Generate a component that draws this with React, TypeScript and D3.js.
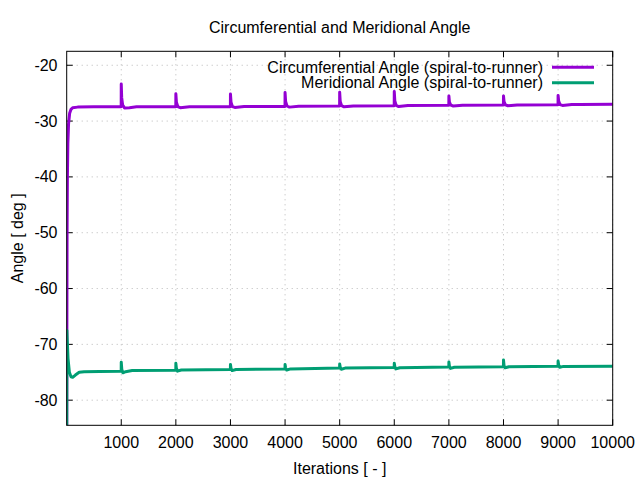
import React from 'react';
import * as d3 from 'd3';

// iteration / angle pairs
const circumferential: [number, number][] = [
  [1, -92], [4, -70], [8, -50], [14, -40], [22, -34], [35, -30.5], [55, -28.6],
  [80, -27.9], [110, -27.6], [200, -27.5], [500, -27.45], [999, -27.45],
  [1000, -23.35], [1008, -25.8], [1025, -27.1], [1060, -27.65], [1150, -27.6], [1280, -27.45], [1999, -27.45],
  [2000, -25.1], [2010, -26.6], [2035, -27.4], [2080, -27.6], [2250, -27.45], [2999, -27.45],
  [3000, -25.15], [3010, -26.6], [3035, -27.4], [3080, -27.55], [3250, -27.4], [3999, -27.38],
  [4000, -24.9], [4010, -26.5], [4035, -27.3], [4080, -27.5], [4250, -27.35], [4999, -27.32],
  [5000, -24.85], [5010, -26.5], [5035, -27.25], [5080, -27.45], [5250, -27.3], [5999, -27.25],
  [6000, -24.7], [6010, -26.4], [6035, -27.2], [6080, -27.4], [6250, -27.22], [6999, -27.18],
  [7000, -25.5], [7010, -26.6], [7035, -27.15], [7080, -27.3], [7250, -27.15], [7999, -27.12],
  [8000, -25.5], [8010, -26.5], [8035, -27.1], [8080, -27.25], [8250, -27.1], [8999, -27.06],
  [9000, -25.4], [9010, -26.4], [9035, -27.05], [9080, -27.2], [9250, -27.05], [9400, -27.02],
  [10000, -27.0],
];

const meridional: [number, number][] = [
  [1, -92], [4, -67.5], [10, -69], [25, -72.5], [50, -75], [80, -75.8], [110, -75.9],
  [160, -75.5], [230, -75.0], [320, -74.9], [600, -74.85], [999, -74.8],
  [1000, -73.2], [1010, -74.5], [1030, -75.1], [1080, -74.9], [1200, -74.7], [1999, -74.65],
  [2000, -73.4], [2010, -74.3], [2030, -74.8], [2100, -74.6], [2999, -74.5],
  [3000, -73.6], [3010, -74.3], [3030, -74.7], [3100, -74.5], [3999, -74.4],
  [4000, -73.6], [4010, -74.2], [4030, -74.6], [4100, -74.4], [4999, -74.25],
  [5000, -73.5], [5010, -74.1], [5030, -74.45], [5100, -74.25], [5999, -74.15],
  [6000, -73.4], [6010, -74.0], [6030, -74.4], [6100, -74.2], [6999, -74.05],
  [7000, -73.15], [7010, -73.9], [7030, -74.3], [7100, -74.1], [7999, -74.0],
  [8000, -72.8], [8010, -73.8], [8030, -74.2], [8100, -74.0], [8999, -73.9],
  [9000, -73.0], [9010, -73.7], [9030, -74.1], [9100, -73.95], [10000, -73.9],
];

const seriesNames = [
  'Circumferential Angle (spiral-to-runner)',
  'Meridional Angle (spiral-to-runner)',
];
const seriesColors = ['#9400d3', '#009e73'];

const iterTicks = [1000, 2000, 3000, 4000, 5000, 6000, 7000, 8000, 9000, 10000];
const angleTicks = [-80, -70, -60, -50, -40, -30, -20];

const width = 640;
const height = 480;
const margin = { top: 51.3, right: 27.3, bottom: 54.7, left: 66.7 };
const font = "'Liberation Sans', Arial, sans-serif";

const App: React.FC = () => {
  const x = d3
    .scaleLinear()
    .domain([1, 10000])
    .range([margin.left, width - margin.right]);
  const y = d3
    .scaleLinear()
    .domain([-84.5, -17.5])
    .range([height - margin.bottom, margin.top]);

  const line = d3
    .line<[number, number]>()
    .x((d) => x(d[0]))
    .y((d) => y(d[1]));

  const x0 = margin.left;
  const x1 = width - margin.right;
  const y0 = height - margin.bottom;
  const y1 = margin.top;
  const tickLen = 6;

  return (
    <svg
      width={width}
      height={height}
      style={{ position: 'absolute', left: 0, top: 0, background: '#fff' }}
      fontFamily={font}
    >
      <defs>
        <clipPath id='plot'>
          <rect x={x0} y={y1} width={x1 - x0} height={y0 - y1} />
        </clipPath>
      </defs>

      {/* grid */}
      <g stroke='#b8b8b8' strokeWidth={1} strokeDasharray='1,4'>
        {iterTicks.map((t) => (
          <line key={'gx' + t} x1={x(t)} x2={x(t)} y1={y0} y2={y1} />
        ))}
        {angleTicks.map((t) => (
          <line key={'gy' + t} x1={x0} x2={x1} y1={y(t)} y2={y(t)} />
        ))}
      </g>

      {/* ticks on all four sides */}
      <g stroke='#000' strokeWidth={1}>
        {iterTicks.map((t) => (
          <g key={'tx' + t}>
            <line x1={x(t)} x2={x(t)} y1={y0} y2={y0 - tickLen} />
            <line x1={x(t)} x2={x(t)} y1={y1} y2={y1 + tickLen} />
          </g>
        ))}
        {angleTicks.map((t) => (
          <g key={'ty' + t}>
            <line x1={x0} x2={x0 + tickLen} y1={y(t)} y2={y(t)} />
            <line x1={x1} x2={x1 - tickLen} y1={y(t)} y2={y(t)} />
          </g>
        ))}
      </g>

      {/* series */}
      <g clipPath='url(#plot)' fill='none' strokeWidth={3} strokeLinejoin='round'>
        <path d={line(circumferential)!} stroke={seriesColors[0]} />
        <path d={line(meridional)!} stroke={seriesColors[1]} />
      </g>

      <rect x={x0} y={y1} width={x1 - x0} height={y0 - y1} fill='none' stroke='#000' strokeWidth={1} />

      {/* tick labels */}
      <g fontSize={16} fill='#000'>
        {iterTicks.map((t) => (
          <text key={'lx' + t} x={x(t)} y={448} textAnchor='middle'>
            {t}
          </text>
        ))}
        {angleTicks.map((t) => (
          <text key={'ly' + t} x={57.5} y={y(t) + 5.5} textAnchor='end'>
            {t}
          </text>
        ))}
      </g>

      {/* legend */}
      <g fontSize={16}>
        {seriesNames.map((name, i) => (
          <g key={name}>
            <text x={543} y={67.3 + i * 15.4 + 5.5} textAnchor='end'>
              {name}
            </text>
            <line
              x1={552}
              x2={594}
              y1={67.3 + i * 15.4}
              y2={67.3 + i * 15.4}
              stroke={seriesColors[i]}
              strokeWidth={3}
            />
          </g>
        ))}
      </g>

      <text x={(x0 + x1) / 2} y={32.5} textAnchor='middle' fontSize={16}>
        Circumferential and Meridional Angle
      </text>
      <text x={(x0 + x1) / 2} y={474} textAnchor='middle' fontSize={16}>
        Iterations [ - ]
      </text>
      <text
        transform={`translate(22.5,${(y0 + y1) / 2}) rotate(-90)`}
        textAnchor='middle'
        fontSize={16}
      >
        Angle [ deg ]
      </text>
    </svg>
  );
};

export default App;
